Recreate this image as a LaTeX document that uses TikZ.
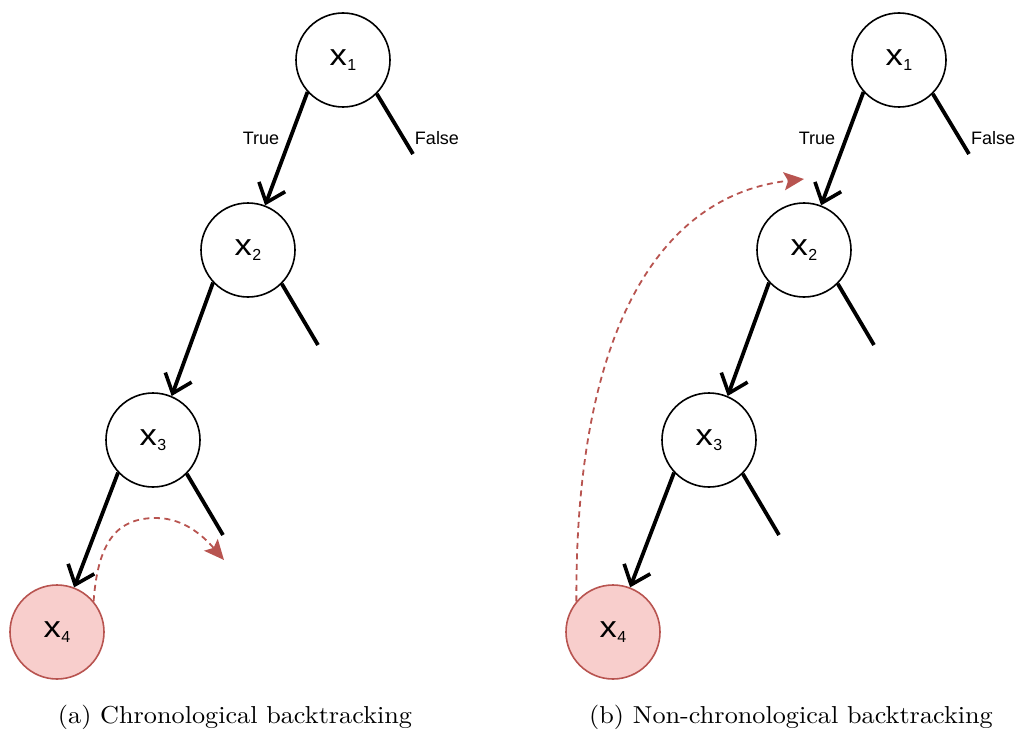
\documentclass[tikz,border=0pt]{standalone}
\usepackage{fontspec}
\usepackage{graphicx}
\newfontfamily\capfont{lmroman10-regular.otf}
\newfontfamily\arialf{Liberation Sans}
\usetikzlibrary{arrows.meta,calc}
\definecolor{redstroke}{HTML}{B85450}
\definecolor{redfill}{HTML}{F8CECC}
\tikzset{
  var/.style={circle,draw=black,line width=1.6pt,minimum size=94pt,inner sep=0pt,fill=white,font=\arialf},
  hit/.style={var,draw=redstroke,fill=redfill},
  tedge/.style={line width=3.8pt,-{Straight Barb[length=17pt,width=28pt,line width=3.6pt]}},
  fedge/.style={line width=3.8pt},
  back/.style={redstroke,line width=1.8pt,dash pattern=on 6pt off 4.5pt,-{Stealth[length=20pt,width=18pt,inset=4pt]}},
  lbl/.style={font=\arialf\fontsize{18}{20}\selectfont},
  captext/.style={font=\capfont\fontsize{24.5}{28}\selectfont}
}
\newcommand{\xv}[1]{\scalebox{1.15}[1]{\fontsize{30}{30}\selectfont x}\kern0.5pt\raisebox{-4.5pt}{\fontsize{16}{16}\selectfont #1}}
\newcommand{\wide}[2]{\scalebox{#1}[1]{#2}}
\begin{document}
\begin{tikzpicture}[x=1pt,y=-1pt]
\useasboundingbox (0,0) rectangle (1017,733);
% left tree
\node[var] (a1) at (343,60) {\xv{1}};
\node[var] (a2) at (248,250) {\xv{2}};
\node[var] (a3) at (153,440) {\xv{3}};
\node[hit] (a4) at (57,632) {\xv{4}};
\coordinate (af1) at (413,154);
\coordinate (af2) at (318,345);
\coordinate (af3) at (223,535);
\draw[tedge] (a1.222) -- (a2.69);
\draw[tedge] (a2.223) -- (a3.67);
\draw[tedge] (a3.223) -- (a4.69);
\draw[fedge] (a1.-45) -- (af1);
\draw[fedge] (a2.-45) -- (af2);
\draw[fedge] (a3.-45) -- (af3);
\node[lbl] (at) at (261,138) {True};
\node[lbl] (af) at (437,138) {False};
\coordinate (ab) at (224,560);
\draw[back] (a4.40) .. controls (98,540) and (118,518) .. (156,518) .. controls (185,518) and (205,538) .. (ab);
\node[captext] (ca) at (235,717) {\wide{1.07}{(a) Chronological backtracking}};
% right tree
\node[var] (b1) at (899,60) {\xv{1}};
\node[var] (b2) at (804,250) {\xv{2}};
\node[var] (b3) at (709,440) {\xv{3}};
\node[hit] (b4) at (613,632) {\xv{4}};
\coordinate (bf1) at (969,154);
\coordinate (bf2) at (874,345);
\coordinate (bf3) at (779,535);
\draw[tedge] (b1.222) -- (b2.69);
\draw[tedge] (b2.223) -- (b3.67);
\draw[tedge] (b3.223) -- (b4.69);
\draw[fedge] (b1.-45) -- (bf1);
\draw[fedge] (b2.-45) -- (bf2);
\draw[fedge] (b3.-45) -- (bf3);
\node[lbl] (bt) at (817,138) {True};
\node[lbl] (bff) at (993,138) {False};
\coordinate (bb) at (804,179);
\draw[back] (b4.140) .. controls (575,330) and (660,195) .. (bb);
\node[captext] (cb) at (791,717) {\wide{1.07}{(b) Non-chronological backtracking}};
\end{tikzpicture}
\end{document}
